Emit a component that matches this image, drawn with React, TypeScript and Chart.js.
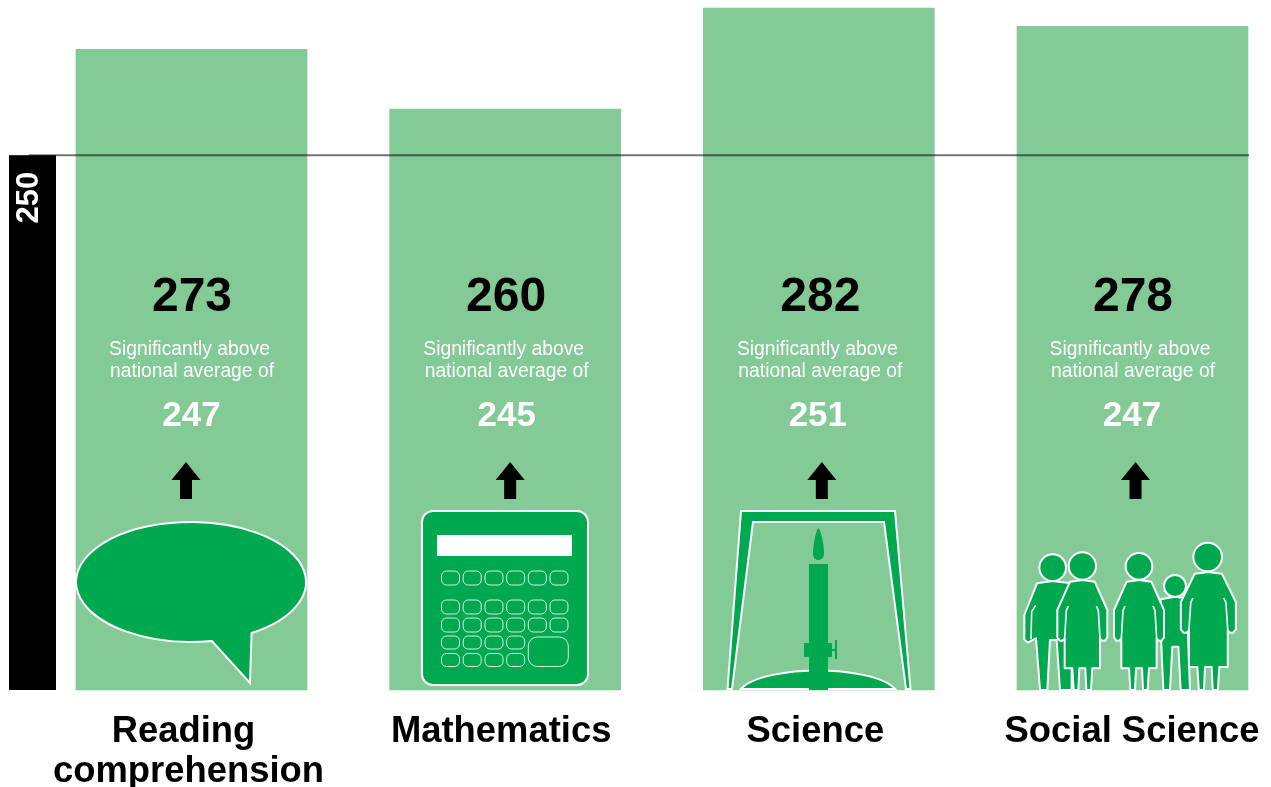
import React, { useEffect, useRef } from "react";
import { Chart, registerables } from "chart.js";

Chart.register(...registerables);

const categories = ["Reading comprehension", "Mathematics", "Science", "Social Science"];
const schoolScores = [273, 260, 282, 278];
const nationalAverages = [247, 245, 251, 247];
const referenceScore = 250;
const axisMin = 133.74;
const axisMax = 282;
const noteLines = ["Significantly above", "national average of"];
const axisLabelLines = [["Reading", "comprehension"], ["Mathematics"], ["Science"], ["Social Science"]];

const scoreDx = [0.5, 1, 1.5, 0.5];
const note1Dx = [-2, -1.5, -1.5, -2.5];
const note2Dx = [0.5, 1.5, 1.5, 0.5];
const avgDx = [0, 1.5, -1, -0.5];
const arrowDx = [-5.5, 5, 3, 3];
const labelDx = [[-8, -3], [-4], [-3.5], [-0.5]];

const FONT = '"Liberation Sans", Arial, sans-serif';
const BAR = "#84CA97";
const ICON = "#00A94F";

type C = CanvasRenderingContext2D;

function speech(c: C) {
  c.beginPath();
  const cx = 191, cy = 582, rx = 115, ry = 60;
  const a1 = Math.asin((633 - cy) / ry);
  const a2 = Math.asin((641 - cy) / ry);
  c.ellipse(cx, cy, rx, ry, 0, a2, a1 + Math.PI * 2);
  c.lineTo(250, 683);
  c.closePath();
  c.fillStyle = ICON;
  c.fill();
  c.strokeStyle = "#fff";
  c.lineWidth = 2;
  c.lineJoin = "miter";
  c.stroke();
}

function rr(c: C, x: number, y: number, w: number, h: number, r: number) {
  c.beginPath();
  c.roundRect(x, y, w, h, r);
}

function calculator(c: C) {
  rr(c, 422, 511, 166, 174, 11);
  c.fillStyle = ICON;
  c.fill();
  c.strokeStyle = "#fff";
  c.lineWidth = 2;
  c.stroke();
  c.fillStyle = "#fff";
  c.fillRect(437, 535, 135, 21);
  const xs = [441.5, 463.2, 485, 506.7, 528.3, 550];
  c.lineWidth = 1;
  c.strokeStyle = "#d5efdc";
  const key = (x: number, y: number, h: number) => {
    rr(c, x, y, 18, h, 5);
    c.stroke();
  };
  xs.forEach((x) => key(x, 571, 14));
  xs.forEach((x) => key(x, 600, 14));
  xs.forEach((x) => key(x, 618, 14));
  xs.slice(0, 4).forEach((x) => key(x, 636, 13));
  xs.slice(0, 4).forEach((x) => key(x, 653.5, 13));
  rr(c, 528.3, 637, 40, 29.5, 9);
  c.stroke();
}

function burner(c: C) {
  c.beginPath();
  c.moveTo(741, 511);
  c.lineTo(895, 511);
  c.lineTo(910.5, 689);
  c.lineTo(906, 689);
  c.lineTo(884, 522);
  c.lineTo(753, 522);
  c.lineTo(732, 689);
  c.lineTo(727.5, 689);
  c.closePath();
  c.fillStyle = ICON;
  c.fill();
  c.strokeStyle = "#fff";
  c.lineWidth = 2;
  c.stroke();
  // base
  c.beginPath();
  c.moveTo(741, 689);
  c.bezierCurveTo(752, 676, 790, 670.5, 818, 670.5);
  c.bezierCurveTo(846, 670.5, 884, 676, 895, 689);
  c.closePath();
  c.fill();
  c.stroke();
  c.fillStyle = ICON;
  c.fillRect(809, 564, 19, 126);
  c.fillRect(804, 643, 28, 14);
  c.fillRect(832, 649, 4, 2);
  c.fillRect(835, 640, 2, 19);
  // flame
  c.beginPath();
  c.moveTo(818.3, 528);
  c.bezierCurveTo(821, 530, 824, 545, 824, 553);
  c.bezierCurveTo(824, 558, 821, 560, 818.3, 560);
  c.bezierCurveTo(815, 560, 813, 558, 813, 553);
  c.bezierCurveTo(813, 545, 816, 530, 818.3, 528);
  c.closePath();
  c.fill();
}

// family icon: outlines are written at 3:1 from the icon's top-left corner
function shape(c: C, pts: number[][]) {
  c.beginPath();
  pts.forEach(([x, y], i) => {
    const px = 1015 + x / 3;
    const py = 530 + y / 3;
    if (i === 0) c.moveTo(px, py);
    else c.lineTo(px, py);
  });
  c.closePath();
  c.fillStyle = ICON;
  c.fill();
  c.strokeStyle = "#fff";
  c.lineWidth = 2;
  c.lineJoin = "round";
  c.stroke();
}

function slit(c: C, pts: number[][]) {
  c.beginPath();
  pts.forEach(([x, y], i) => {
    const px = 1015 + x / 3;
    const py = 530 + y / 3;
    if (i === 0) c.moveTo(px, py);
    else c.lineTo(px, py);
  });
  c.strokeStyle = "#fff";
  c.lineWidth = 1.6;
  c.stroke();
}

function head(c: C, x: number, y: number, r: number) {
  c.beginPath();
  c.arc(1015 + x / 3, 530 + y / 3, r / 3, 0, Math.PI * 2);
  c.fillStyle = ICON;
  c.fill();
  c.strokeStyle = "#fff";
  c.lineWidth = 2;
  c.stroke();
}

function woman(c: C, cx: number, shoulder: number, hem: number, spread: number) {
  const s = spread;
  const P = (x: number, y: number) => [cx + x * s, y];
  // one side of the figure, from shoulder to hem, mirrored for the other
  const side = [
    [37, shoulder + 5],
    [75, shoulder + 90],
    [75, shoulder + 172],
    [68, shoulder + 182],
    [60, shoulder + 182],
    [53, shoulder + 176],
    [53, hem],
    [30, hem],
    [26, 480],
    [12, 480],
    [9, hem],
  ];
  shape(c, [
    P(0, shoulder),
    ...side.map(([x, y]) => P(x, y)),
    ...side.slice().reverse().map(([x, y]) => P(-x, y)),
  ]);
  // the thin line that parts each arm from the dress
  for (const d of [1, -1]) {
    slit(c, [P(d * 42, shoulder + 78), P(d * 48, shoulder + 92), P(d * 53, shoulder + 176)]);
  }
}

function family(c: C) {
  // man
  shape(c, [
    [66, 160], [113, 153], [170, 160], [170, 480], [135, 480], [125, 330], [105, 330], [97, 480],
    [75, 480], [63, 325], [50, 332], [38, 338], [28, 328], [28, 255],
  ]);
  slit(c, [[62, 226], [50, 245], [48, 328]]);
  head(c, 113, 113, 40);
  // woman 1
  woman(c, 202, 150, 415, 1);
  head(c, 202, 108, 41);
  // child
  shape(c, [
    [437, 208], [480, 200], [515, 205], [525, 480], [497, 480], [490, 350], [472, 350], [465, 480],
    [445, 480], [437, 300],
  ]);
  head(c, 480, 168, 33);
  // woman 2
  woman(c, 372, 150, 415, 1);
  head(c, 372, 109, 40);
  // woman 3
  woman(c, 580, 126, 411, 1.1);
  head(c, 578, 81, 43);
}

const icons = [speech, calculator, burner, family];
const iconHome = [191.5, 505.17, 818.83, 1132.5];

const infographic = {
  id: "infographic",
  beforeDatasetsDraw(chart: any) {
    const c: C = chart.ctx;
    const y = chart.scales.y;
    const top = y.getPixelForValue(referenceScore);
    const bottom = y.bottom;
    c.save();
    c.fillStyle = "#000";
    c.fillRect(9, top, 47, bottom - top);
    c.translate(28, top + 42.5);
    c.rotate(-Math.PI / 2);
    c.fillStyle = "#fff";
    c.font = `bold 31px ${FONT}`;
    c.textAlign = "center";
    c.textBaseline = "middle";
    c.fillText(String(referenceScore), 0, 1);
    c.restore();
  },
  afterDatasetsDraw(chart: any) {
    const c: C = chart.ctx;
    const x = chart.scales.x;
    const y = chart.scales.y;
    const lineY = y.getPixelForValue(referenceScore);
    const bottom = y.bottom;
    c.save();
    c.textAlign = "center";
    c.textBaseline = "alphabetic";
    categories.forEach((_, i) => {
      const cx = x.getPixelForValue(i);
      c.save();
      c.translate(cx - iconHome[i], bottom - 690);
      icons[i](c);
      c.restore();

      c.fillStyle = "#000";
      c.font = `bold 48px ${FONT}`;
      c.fillText(String(schoolScores[i]), cx + scoreDx[i], bottom - 379);
      c.fillStyle = "#fff";
      c.font = `19.3px ${FONT}`;
      c.fillText(noteLines[0], cx + note1Dx[i], bottom - 335);
      c.fillText(noteLines[1], cx + note2Dx[i], bottom - 313);
      c.font = `bold 35px ${FONT}`;
      c.fillText(String(nationalAverages[i]), cx + avgDx[i], bottom - 264);

      const ax = cx + arrowDx[i];
      c.fillStyle = "#000";
      c.beginPath();
      c.moveTo(ax, bottom - 228);
      c.lineTo(ax + 14.5, bottom - 210);
      c.lineTo(ax + 6, bottom - 210);
      c.lineTo(ax + 6, bottom - 191);
      c.lineTo(ax - 6, bottom - 191);
      c.lineTo(ax - 6, bottom - 210);
      c.lineTo(ax - 14.5, bottom - 210);
      c.closePath();
      c.fill();

      c.fillStyle = "#000";
      c.font = `bold 36.4px ${FONT}`;
      axisLabelLines[i].forEach((t, k) => {
        c.fillText(t, cx + labelDx[i][k], bottom + 52 + k * 40);
      });
    });
    c.strokeStyle = "rgba(0,0,0,0.55)";
    c.lineWidth = 2;
    c.beginPath();
    c.moveTo(29, lineY);
    c.lineTo(1249, lineY);
    c.stroke();
    c.restore();
  },
};

export default function App() {
  const ref = useRef<HTMLCanvasElement>(null);
  useEffect(() => {
    const chart = new Chart(ref.current!, {
      type: "bar",
      data: {
        labels: categories,
        datasets: [
          {
            data: schoolScores,
            backgroundColor: BAR,
            borderWidth: 0,
            barThickness: 231,
            base: axisMin,
            clip: false,
          } as any,
        ],
      },
      options: {
        responsive: false,
        animation: false,
        layout: { padding: { left: 191.5, right: 138.5, top: 8, bottom: 97 } },
        plugins: { legend: { display: false }, tooltip: { enabled: false }, title: { display: false } },
        scales: {
          x: { display: false, offset: false, grid: { display: false } },
          y: { display: false, min: axisMin, max: axisMax, grid: { display: false } },
        },
      },
      plugins: [infographic],
    });
    return () => chart.destroy();
  }, []);
  return (
    <div style={{ position: "fixed", left: 0, top: 0, width: 1271, height: 787, background: "#fff" }}>
      <canvas ref={ref} width={1271} height={787} style={{ display: "block" }} />
    </div>
  );
}
